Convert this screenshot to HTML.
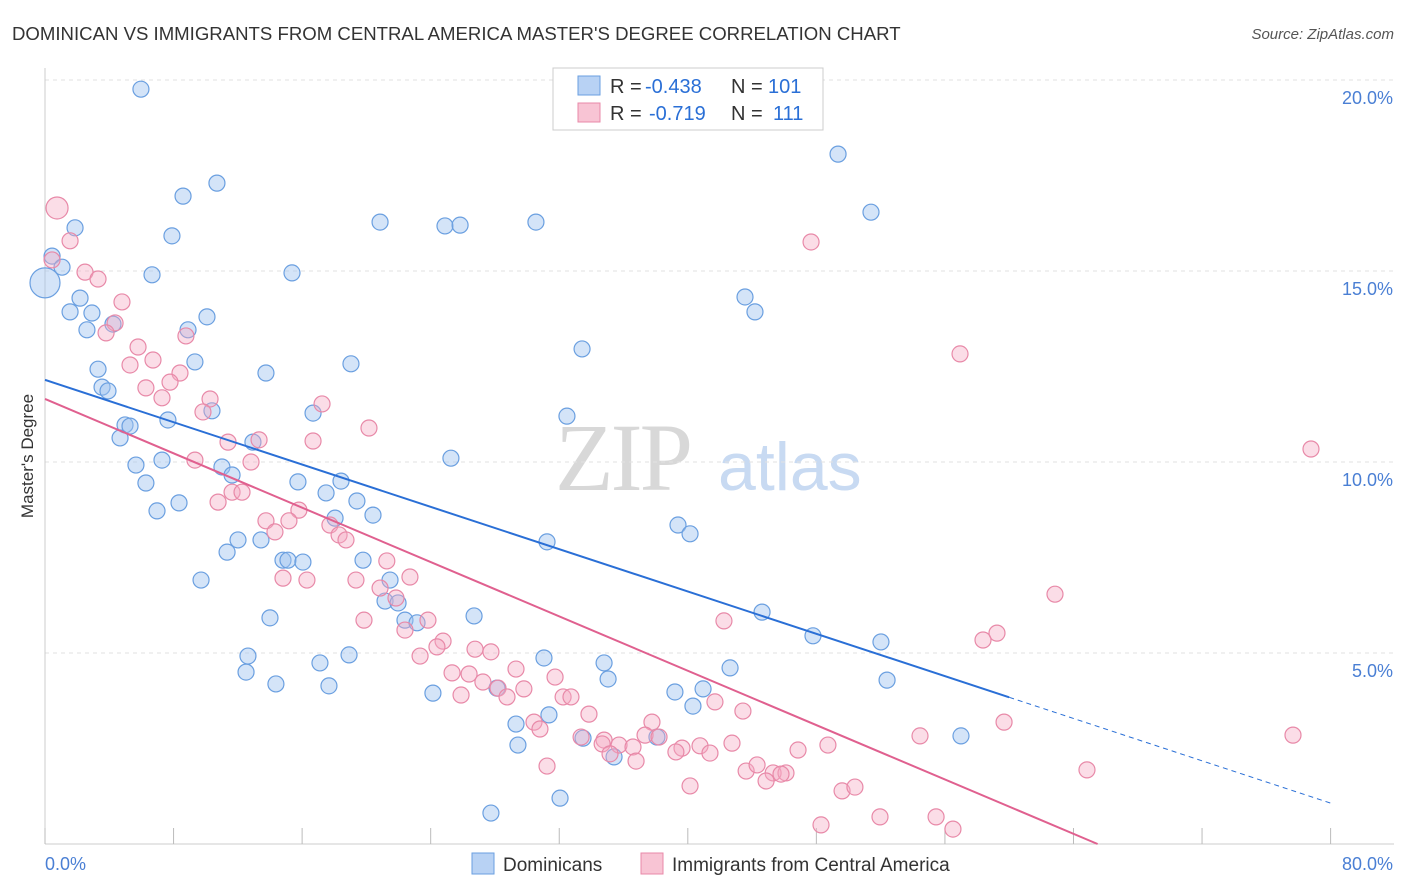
<!DOCTYPE html>
<html><head><meta charset="utf-8"><style>
body{margin:0;background:#fff;font-family:"Liberation Sans",sans-serif;}
svg{display:block}
</style></head><body>
<svg id="c" width="1406" height="892" xmlns="http://www.w3.org/2000/svg">
<text x="12" y="40" font-size="18.6" fill="#333">DOMINICAN VS IMMIGRANTS FROM CENTRAL AMERICA MASTER'S DEGREE CORRELATION CHART</text>
<text x="1394" y="39" font-size="15" fill="#555" font-style="italic" text-anchor="end">Source: ZipAtlas.com</text>
<text x="555" y="490" font-size="96" fill="#d8d8d8" font-family="Liberation Serif" letter-spacing="-3">ZIP</text>
<text x="718" y="490" font-size="68" fill="#c8daf2">atlas</text>
<text transform="translate(33,456) rotate(-90)" font-size="17" fill="#333" text-anchor="middle">Master's Degree</text>
<g id="grid"></g><g id="pts"></g><g id="lines"></g>
<g>
<rect x="553" y="68" width="270" height="62" fill="#fff" stroke="#ccc"/>
<rect x="578" y="76" width="22" height="19" fill="#b8d2f4" stroke="#6a9fe0"/>
<rect x="578" y="103" width="22" height="19" fill="#f8c4d4" stroke="#e889a8"/>
<text x="610" y="93" font-size="20" fill="#333">R =</text>
<text x="645" y="93" font-size="20" fill="#2a6fd6">-0.438</text>
<text x="731" y="93" font-size="20" fill="#333">N =</text>
<text x="768" y="93" font-size="20" fill="#2a6fd6">101</text>
<text x="610" y="120" font-size="20" fill="#333">R =</text>
<text x="649" y="120" font-size="20" fill="#2a6fd6">-0.719</text>
<text x="731" y="120" font-size="20" fill="#333">N =</text>
<text x="773" y="120" font-size="20" fill="#2a6fd6">111</text>
</g>
<g>
<rect x="472" y="853" width="22" height="21" fill="#b8d2f4" stroke="#6a9fe0"/>
<text x="503" y="871" font-size="19" fill="#333">Dominicans</text>
<rect x="641" y="853" width="22" height="21" fill="#f8c4d4" stroke="#e889a8"/>
<text x="672" y="871" font-size="19" fill="#333">Immigrants from Central America</text>
</g>
</svg>
<script>
const xTicks=[0,8,16,24,32,40,48,56,64,72,80];
const yTicks=[5,10,15,20];
const blueX=[5.97,8.59,10.70,7.90,1.87,0.44,1.06,6.66,2.18,1.56,2.92,2.61,4.23,8.90,10.08,15.37,20.85,24.89,25.83,30.55,49.35,51.40,43.56,44.18,33.42,19.04,13.75,9.33,3.30,3.55,3.92,16.68,10.39,7.65,4.98,5.29,4.67,12.94,32.48,25.26,5.66,7.28,11.01,11.64,6.28,15.74,18.42,17.49,19.41,8.34,6.97,20.41,18.05,12.01,13.44,11.33,14.81,15.12,16.05,19.79,31.24,39.39,40.14,9.71,21.47,21.16,21.97,22.40,23.15,14.00,26.70,44.62,47.79,52.02,12.63,18.92,17.11,31.05,34.79,42.63,12.51,14.37,17.67,35.04,52.40,24.14,28.13,39.20,40.95,40.32,31.36,29.31,33.48,38.08,29.43,35.41,57.00,32.05,27.75];
const blueY=[19.76,16.96,17.30,15.92,16.13,15.39,15.10,14.90,14.29,13.93,13.90,13.46,13.61,13.46,13.80,14.95,16.28,16.18,16.20,16.28,18.06,16.54,14.32,13.93,12.96,12.57,12.33,12.62,12.43,11.96,11.86,11.28,11.34,11.10,10.97,10.94,10.63,10.52,11.20,10.10,9.92,10.05,9.87,9.66,9.45,9.48,9.50,9.19,8.98,8.93,8.72,8.61,8.53,7.96,7.96,7.64,7.43,7.43,7.38,7.43,7.91,8.35,8.12,6.91,6.91,6.36,6.31,5.86,5.79,5.92,5.97,6.07,5.45,5.29,4.92,4.95,4.74,4.87,4.74,4.61,4.50,4.19,4.14,4.32,4.29,3.95,4.08,3.98,4.06,3.61,3.38,3.14,2.77,2.80,2.59,2.28,2.83,1.20,0.81];
const pinkX=[1.56,0.44,2.49,3.30,4.79,4.36,3.80,5.79,5.29,6.72,8.40,7.78,6.28,7.28,8.77,10.27,9.83,17.24,20.16,11.39,13.32,16.68,9.33,12.82,11.64,12.26,10.77,15.80,13.75,15.18,14.31,17.73,18.30,18.73,21.27,14.81,16.30,19.35,20.85,22.71,21.84,19.85,22.40,23.83,24.77,24.39,23.34,26.76,27.75,47.67,56.94,78.78,62.85,42.25,59.24,58.37,25.33,26.39,29.31,27.25,31.74,25.89,28.19,29.80,28.75,32.24,32.73,30.43,30.80,33.85,37.77,41.69,43.43,59.68,33.36,34.79,34.67,35.72,36.59,37.34,38.21,39.64,39.26,40.76,41.38,42.75,46.86,48.72,54.45,77.66,35.16,36.78,31.24,43.63,44.31,45.31,46.11,44.87,45.80,64.84,40.14,49.60,50.40,51.96,55.45,56.50,48.29];
const pinkY=[15.79,15.29,14.97,14.79,14.19,13.64,13.38,13.01,12.54,12.67,12.33,12.09,11.94,11.68,13.30,11.65,11.31,11.52,10.89,10.52,10.58,10.55,10.05,10.00,9.21,9.21,8.95,8.74,8.46,8.46,8.17,8.35,8.09,7.96,7.41,6.96,6.91,6.91,6.70,6.99,6.44,5.86,5.60,5.86,5.31,5.16,4.92,5.10,5.03,15.76,12.83,10.34,6.54,5.84,5.52,5.34,4.48,4.45,4.58,4.24,4.37,3.90,4.08,4.06,3.85,3.85,3.85,3.19,3.01,3.40,3.19,3.72,3.48,3.19,2.80,2.72,2.62,2.59,2.54,2.85,2.80,2.51,2.41,2.57,2.38,2.64,2.46,2.59,2.83,2.85,2.36,2.17,2.04,1.91,2.07,1.86,1.86,1.65,1.83,1.94,1.52,1.39,1.49,0.71,0.71,0.39,0.50];
const bigBlueX=[0], bigBlueY=[14.69];
const bigPinkX=[0.75], bigPinkY=[16.65];
const blueTrend=[12.15,1.07], pinkTrend=[11.65,0];
const pinkZeroX=65.5, blueSolidEnd=60.0;

const NS="http://www.w3.org/2000/svg";
const X=v=>45+v*16.07, Y=v=>844-v*38.2;
function mk(t,a,p){const e=document.createElementNS(NS,t);for(const k in a)e.setAttribute(k,a[k]);p.appendChild(e);return e;}
const grid=document.getElementById('grid'),pts=document.getElementById('pts'),lines=document.getElementById('lines'),svg=document.getElementById('c');
yTicks.forEach(v=>{
 const l=mk('line',{x1:45,x2:1394,y1:Y(v),y2:Y(v),stroke:'#e2e2e2','stroke-dasharray':'4,4'},grid);
 
 
 const t=mk('text',{x:1393,y:Y(v)+24,'font-size':18,fill:'#4a7fd4','text-anchor':'end'},svg);
 t.textContent=v.toFixed(1)+'%';
 
 
});
const ax=mk('line',{x1:45,x2:1394,y1:844,y2:844,stroke:'#ccc'},grid);


const ay=mk('line',{x1:45,x2:45,y1:68,y2:844,stroke:'#ccc'},grid);


xTicks.forEach(v=>{
 const tk=mk('line',{x1:X(v),x2:X(v),y1:828,y2:844,stroke:'#bbb'},grid);
 
 
});
[[0,'start'],[80,'end']].forEach(([v,a])=>{
 const t=mk('text',{x:v?1393:45,y:870,'font-size':18,fill:'#4a7fd4','text-anchor':a},svg);
 t.textContent=v.toFixed(1)+'%';
 
 
});
function dots(xs,ys,r,fill,st,name){
 xs.forEach((x,i)=>{
  const c=mk('circle',{cx:X(x),cy:Y(ys[i]),r:r,fill:fill,stroke:st,'stroke-width':1.2},pts);
  
  
 });
}
dots(blueX,blueY,8,'rgba(160,196,240,0.45)','#6a9fe0','dominican-point');
dots(pinkX,pinkY,8,'rgba(245,170,195,0.4)','#e889a8','central-america-point');
dots(bigBlueX,bigBlueY,15,'rgba(160,196,240,0.45)','#6a9fe0','dominican-point');
dots(bigPinkX,bigPinkY,11,'rgba(245,170,195,0.4)','#e889a8','central-america-point');
const bv=x=>blueTrend[0]+(blueTrend[1]-blueTrend[0])*x/80;
let l1=mk('line',{x1:X(0),y1:Y(bv(0)),x2:X(blueSolidEnd),y2:Y(bv(blueSolidEnd)),stroke:'#2a6fd6','stroke-width':2},lines);


let l2=mk('line',{x1:X(blueSolidEnd),y1:Y(bv(blueSolidEnd)),x2:X(80),y2:Y(bv(80)),stroke:'#2a6fd6','stroke-width':1,'stroke-dasharray':'5,4'},lines);


let l3=mk('line',{x1:X(0),y1:Y(pinkTrend[0]),x2:X(pinkZeroX),y2:Y(pinkTrend[1]),stroke:'#e0608f','stroke-width':2},lines);


</script>
</body></html>
